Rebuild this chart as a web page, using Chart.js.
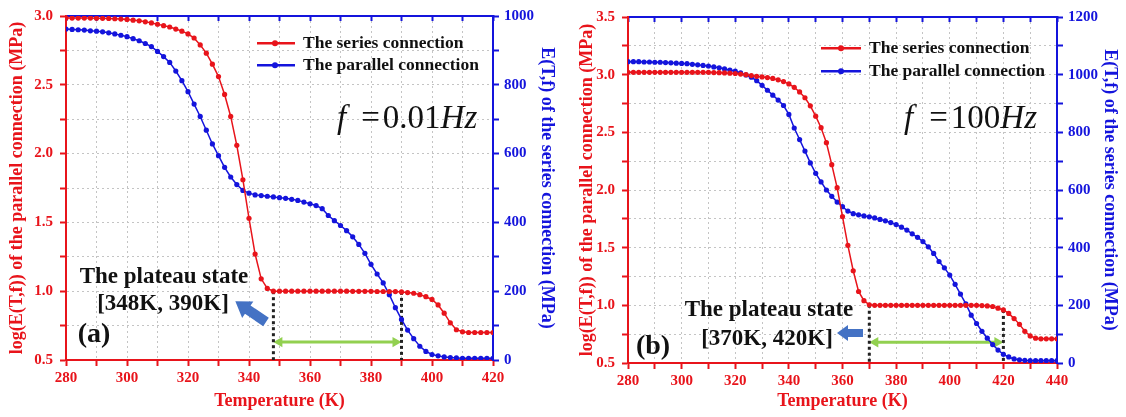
<!DOCTYPE html>
<html>
<head>
<meta charset="utf-8">
<script src="https://cdn.jsdelivr.net/npm/chart.js@4.4.1/dist/chart.umd.min.js"></script>
<style>
  html, body { margin: 0; padding: 0; background: #fff; }
  #wrap { position: relative; width: 1126px; height: 417px; overflow: hidden;
          font-family: 'Liberation Serif', 'Times New Roman', serif; }
  .panel { position: absolute; top: 0; height: 417px; }
  .txt { position: absolute; white-space: nowrap; color: #111; line-height: 1; }
  .mid { transform: translate(-50%, -50%); }
  .lft { transform: translateY(-50%); }
  .leg { font-weight: bold; font-size: 17.5px; display: flex; align-items: center; }
  .leg svg { margin-right: 8px; }
  .eq { font-size: 33px; }
  .eq i { font-style: italic; }
  .plateau { font-weight: bold; font-size: 23px; }
  .tag { font-weight: bold; font-size: 28px; }
  svg.arrow { position: absolute; left: 0; top: 0; overflow: visible; }
</style>
</head>
<body>
<div id="wrap">
  <div class="panel" style="left:0; width:560px;"><canvas id="chartA"></canvas></div>
  <div class="panel" style="left:560px; width:566px;"><canvas id="chartB"></canvas></div>

  <!-- panel (a) notes -->
  <div class="txt leg lft" style="left:257px; top:43px;">
    <svg width="38" height="8"><line x1="0" y1="4" x2="38" y2="4" stroke="#e8141b" stroke-width="2.5"/><circle cx="18" cy="4" r="3" fill="#e8141b"/></svg>The series connection</div>
  <div class="txt leg lft" style="left:257px; top:65px;">
    <svg width="38" height="8"><line x1="0" y1="4" x2="38" y2="4" stroke="#1414dc" stroke-width="2.5"/><circle cx="18" cy="4" r="3" fill="#1414dc"/></svg>The parallel connection</div>
  <div class="txt eq lft" style="left:337px; top:117px;"><i>f</i><span style="margin:0 3px 0 15px">=</span>0.01<i>Hz</i></div>
  <div class="txt plateau mid" style="left:164px; top:275px;">The plateau state</div>
  <div class="txt plateau mid" style="left:163px; top:302px;">[348K, 390K]</div>
  <div class="txt tag mid" style="left:94px; top:333px;">(a)</div>

  <!-- panel (b) notes -->
  <div class="txt leg lft" style="left:821px; top:48px;">
    <svg width="40" height="8"><line x1="0" y1="4" x2="40" y2="4" stroke="#e8141b" stroke-width="2.5"/><circle cx="20" cy="4" r="3" fill="#e8141b"/></svg>The series connection</div>
  <div class="txt leg lft" style="left:821px; top:71px;">
    <svg width="40" height="8"><line x1="0" y1="4" x2="40" y2="4" stroke="#1414dc" stroke-width="2.5"/><circle cx="20" cy="4" r="3" fill="#1414dc"/></svg>The parallel connection</div>
  <div class="txt eq lft" style="left:904px; top:117px;"><i>f</i><span style="margin:0 3px 0 16px">=</span>100<i>Hz</i></div>
  <div class="txt plateau mid" style="left:769px; top:308px;">The plateau state</div>
  <div class="txt plateau mid" style="left:767px; top:337px;">[370K, 420K]</div>
  <div class="txt tag mid" style="left:653px; top:345px;">(b)</div>

  <svg class="arrow" width="1126" height="417">
    <g transform="translate(266,322) rotate(214)">
      <polygon points="0,-5 22,-5 22,-10 37,0 22,10 22,5 0,5" fill="#4472c4"/>
    </g>
    <g transform="translate(863,333) rotate(180)">
      <polygon points="0,-4 15,-4 15,-8 26,0 15,8 15,4 0,4" fill="#4472c4"/>
    </g>
  </svg>
</div>

<script>
// temperatures (K) and read-off values, panel (a): f = 0.01 Hz
const tempsA = [280,282,284,286,288,290,292,294,296,298,300,302,304,306,308,310,312,314,316,318,
                320,322,324,326,328,330,332,334,336,338,340,342,344,346,348,350,352,354,356,358,
                360,362,364,366,368,370,372,374,376,378,380,382,384,386,388,390,392,394,396,398,
                400,402,404,406,408,410,412,414,416,418,420];
const seriesA = [2.985,2.985,2.985,2.985,2.985,2.984,2.983,2.982,2.980,2.978,
                 2.975,2.970,2.965,2.958,2.950,2.940,2.930,2.920,2.905,2.890,
                 2.870,2.840,2.790,2.730,2.650,2.560,2.430,2.270,2.060,1.810,
                 1.530,1.270,1.090,1.020,1.000,1.000,1.000,1.000,1.000,1.000,
                 1.000,1.000,1.000,1.000,1.000,1.000,1.000,0.999,0.999,0.999,
                 0.999,0.998,0.998,0.998,0.997,0.995,0.990,0.985,0.975,0.960,
                 0.940,0.900,0.840,0.770,0.720,0.705,0.700,0.700,0.700,0.700,
                 0.700];
const parallelA = [962,961,960,959,957,956,954,951,948,944,
                   940,934,928,920,911,897,882,865,840,812,
                   780,744,708,668,628,594,560,532,510,493,
                   485,480,478,476,474,472,470,467,464,459,
                   454,449,440,420,405,391,376,358,336,310,
                   278,250,224,190,152,118,87,62,40,25,
                   16,12,9,7,6,5,5,5,5,5,
                   5];

// panel (b): f = 100 Hz
const tempsB = [280,282,284,286,288,290,292,294,296,298,300,302,304,306,308,310,312,314,316,318,
                320,322,324,326,328,330,332,334,336,338,340,342,344,346,348,350,352,354,356,358,
                360,362,364,366,368,370,372,374,376,378,380,382,384,386,388,390,392,394,396,398,
                400,402,404,406,408,410,412,414,416,418,420,422,424,426,428,430,432,434,436,438,
                440];
const seriesB = [3.020,3.020,3.020,3.020,3.020,3.020,3.020,3.020,3.020,3.020,
                 3.020,3.020,3.020,3.020,3.020,3.020,3.018,3.017,3.015,3.013,
                 3.010,3.005,3.000,2.992,2.986,2.980,2.975,2.967,2.955,2.940,
                 2.920,2.890,2.850,2.800,2.730,2.640,2.540,2.410,2.220,2.020,
                 1.770,1.520,1.300,1.120,1.040,1.005,1.000,1.000,1.000,1.000,
                 1.000,1.000,1.000,1.000,1.000,1.000,1.000,1.000,1.000,1.000,
                 1.000,1.000,1.000,1.000,1.000,1.000,0.998,0.995,0.990,0.975,
                 0.960,0.930,0.885,0.835,0.775,0.735,0.715,0.710,0.710,0.710,
                 0.710];
const parallelB = [1045,1045,1045,1044,1044,1043,1043,1042,1041,1040,
                   1039,1038,1036,1034,1032,1030,1027,1024,1020,1016,
                   1012,1006,999,991,979,963,946,929,912,893,
                   862,815,775,735,694,658,628,600,578,558,
                   542,527,518,514,510,507,503,498,493,487,
                   480,471,461,448,436,421,403,380,352,330,
                   305,273,239,205,166,137,110,86,64,45,
                   30,21,14,11,9,8,8,8,8,8,
                   8];

// plateau bounds and the level of the green span arrow
const plateauA = [348, 390];
const plateauB = [370, 420];
const spanLevelA = 0.63;
const spanLevelB = 0.68;

const RED = '#e8141b';
const BLUE = '#1414dc';
const GRID = '#c4c4c4';
const FONT = 'Liberation Serif';

const fixSize = (prop, size) => scale => { scale[prop] = size; };
const hideEdge = (min, max) => c => (c.tick && (c.tick.value === min || c.tick.value === max)) ? 'rgba(0,0,0,0)' : GRID;

function makePanel(id, p) {
    const valueAt = t => p.series[p.temps.indexOf(t)];
    const pts = vals => p.temps.map((t, i) => ({ x: t, y: vals[i] }));
    const inset = 6 / p.pxPerK;

    const tickFont = { family: FONT, size: 15, weight: 'bold' };
    const titleFont = { family: FONT, size: 18, weight: 'bold' };

    new Chart(document.getElementById(id), {
        type: 'line',
        data: {
            datasets: [
                {
                    label: 'The series connection',
                    data: pts(p.series),
                    yAxisID: 'yL',
                    borderColor: RED, backgroundColor: RED,
                    borderWidth: 1.5, pointRadius: 2.6, pointBorderWidth: 0
                },
                {
                    label: 'The parallel connection',
                    data: pts(p.parallel),
                    yAxisID: 'yR',
                    borderColor: BLUE, backgroundColor: BLUE,
                    borderWidth: 1.5, pointRadius: 2.6, pointBorderWidth: 0
                },
                {
                    data: [{ x: p.plateau[0], y: valueAt(p.plateau[0]) }, { x: p.plateau[0], y: p.yMin }],
                    yAxisID: 'yL', borderColor: '#222', borderWidth: 3, borderDash: [3, 3], pointRadius: 0
                },
                {
                    data: [{ x: p.plateau[1], y: valueAt(p.plateau[1]) }, { x: p.plateau[1], y: p.yMin }],
                    yAxisID: 'yL', borderColor: '#222', borderWidth: 3, borderDash: [3, 3], pointRadius: 0
                },
                {
                    // green double arrow across the plateau
                    data: [{ x: p.plateau[0] + inset, y: p.spanLevel }, { x: p.plateau[1] - inset, y: p.spanLevel }],
                    yAxisID: 'yL', borderColor: '#92d050', backgroundColor: '#92d050', borderWidth: 3,
                    pointStyle: 'triangle', pointRadius: 6, pointRotation: [270, 90], pointBorderWidth: 0
                }
            ]
        },
        options: {
            animation: false,
            responsive: true,
            maintainAspectRatio: false,
            devicePixelRatio: 1,
            layout: { padding: 0 },
            events: [],
            plugins: { legend: { display: false }, tooltip: { enabled: false } },
            scales: {
                x: {
                    type: 'linear', position: 'bottom', min: 280, max: p.xMax,
                    afterFit: fixSize('height', p.bottom),
                    ticks: {
                        stepSize: 10, autoSkip: false, maxRotation: 0, padding: 3,
                        color: RED, font: tickFont,
                        callback: v => v % 20 === 0 ? String(v) : ''
                    },
                    grid: { color: hideEdge(280, p.xMax), tickColor: RED, tickLength: 6, tickWidth: 2 },
                    border: { color: RED, width: 2, dash: [2, 3] },
                    title: { display: true, text: 'Temperature (K)', color: RED, font: titleFont, padding: { top: 0, bottom: 5.2 } }
                },
                xTop: {
                    type: 'linear', position: 'top', min: 280, max: p.xMax,
                    afterFit: fixSize('height', p.top),
                    ticks: { stepSize: 10, autoSkip: false, display: false },
                    grid: { drawOnChartArea: false, tickColor: BLUE, tickLength: -5, tickWidth: 2 },
                    border: { color: BLUE, width: 2 }
                },
                yL: {
                    type: 'linear', position: 'left', min: p.yMin, max: p.yMax,
                    afterFit: fixSize('width', p.leftW),
                    ticks: {
                        stepSize: 0.25, autoSkip: false, padding: 7,
                        color: RED, font: tickFont,
                        callback: v => Math.abs(v * 2 - Math.round(v * 2)) < 1e-6 ? v.toFixed(1) : ''
                    },
                    grid: { color: hideEdge(p.yMin, p.yMax), tickColor: RED, tickLength: 6, tickWidth: 2 },
                    border: { color: RED, width: 2, dash: [2, 3] },
                    title: { display: true, text: 'log(E(T,f)) of the parallel connection (MPa)', color: RED, font: titleFont, padding: { top: p.leftTitlePad, bottom: 0 } }
                },
                yR: {
                    type: 'linear', position: 'right', min: 0, max: p.rMax,
                    afterFit: fixSize('width', p.rightW),
                    ticks: {
                        stepSize: 100, autoSkip: false, padding: 5,
                        color: BLUE, font: tickFont,
                        callback: v => v % 200 === 0 ? String(v) : ''
                    },
                    grid: { drawOnChartArea: false, tickColor: BLUE, tickLength: 6, tickWidth: 2 },
                    border: { color: BLUE, width: 2 },
                    title: { display: true, text: 'E(T,f) of the series connection (MPa)', color: BLUE, font: titleFont, padding: { top: p.rightTitlePad, bottom: 0 } }
                }
            }
        }
    });
}

makePanel('chartA', {
    temps: tempsA, series: seriesA, parallel: parallelA,
    plateau: plateauA, spanLevel: spanLevelA,
    xMax: 420, yMin: 0.5, yMax: 3.0, rMax: 1000, pxPerK: 3.05,
    leftW: 66, rightW: 67, top: 15, bottom: 57,
    leftTitlePad: 6.2, rightTitlePad: 2.2
});

makePanel('chartB', {
    temps: tempsB, series: seriesB, parallel: parallelB,
    plateau: plateauB, spanLevel: spanLevelB,
    xMax: 440, yMin: 0.5, yMax: 3.5, rMax: 1200, pxPerK: 2.68,
    leftW: 68, rightW: 69, top: 17, bottom: 54,
    leftTitlePad: 16.2, rightTitlePad: 5.2
});
</script>
</body>
</html>
